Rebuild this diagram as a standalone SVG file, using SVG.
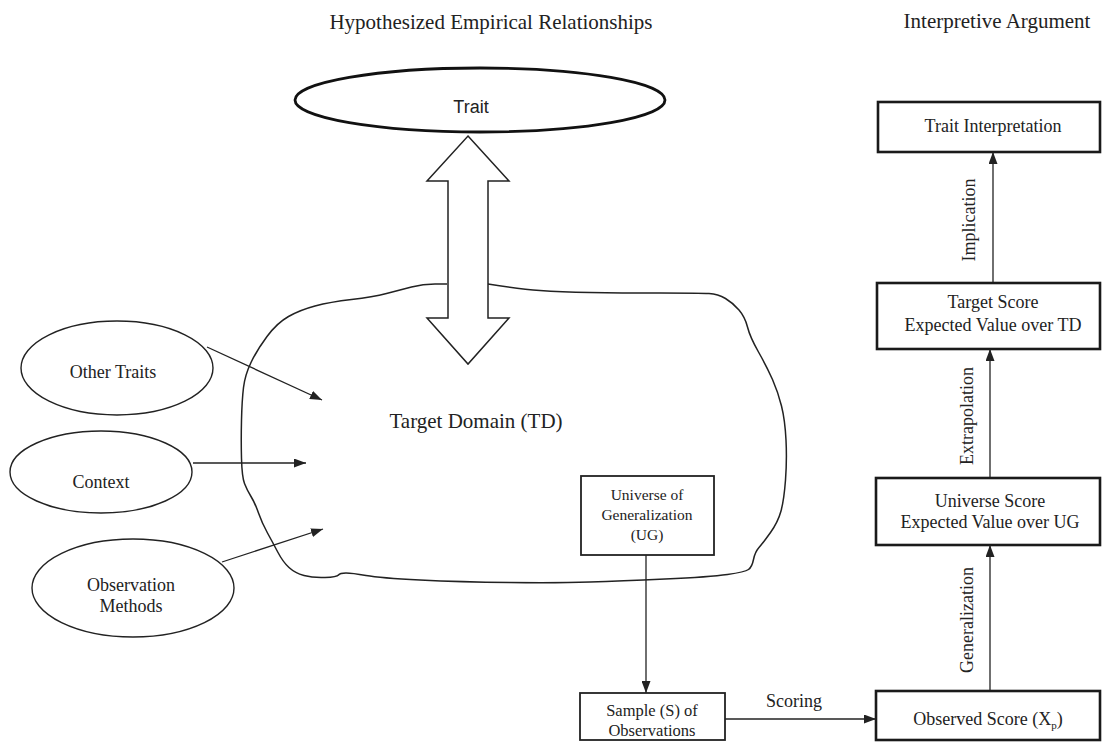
<svg xmlns="http://www.w3.org/2000/svg" width="1103" height="742" viewBox="0 0 1103 742">
<style>
.t{font-family:"Liberation Serif","Times New Roman",serif;fill:#222;text-anchor:middle}
.title{font-size:21px}
.lab{font-size:18px}
.sm{font-size:15.5px}
.sans{font-family:"Liberation Sans",Arial,sans-serif;font-size:18px;fill:#222;text-anchor:middle}
.ell{fill:#fff;stroke:#222;stroke-width:1.4}
.box{fill:#fff;stroke:#222;stroke-width:1.8}
.tbox{fill:#fff;stroke:#1a1a1a;stroke-width:2.6}
.con{stroke:#222;stroke-width:1.3;fill:none}
</style>
<defs>
<marker id="ah" markerWidth="12" markerHeight="9" refX="12" refY="4.5" orient="auto" markerUnits="userSpaceOnUse">
<path d="M0,0 L12,4.5 L0,9 z" fill="#222"/>
</marker>
</defs>
<rect width="1103" height="742" fill="#fff"/>
<text class="t title" x="491" y="29">Hypothesized Empirical Relationships</text>
<text class="t title" x="997" y="28">Interpretive Argument</text>

<g id="target-domain">
<path d="M488,284 Q520,289 540,290.5 Q560,292 590,292.5 Q620,293 660,293 Q700,293 709,293.5 Q718,294 725.5,298.5 Q733,303 739,310 Q745,317 747.5,327 Q750,337 758.5,352 Q767,367 772.5,379.5 Q778,392 781.5,406 Q785,420 786,440 Q787,460 785.5,480 Q784,500 781,511 Q778,522 770.5,532.5 Q763,543 759,547.5 Q755,552 753.5,559.5 Q752,567 748.5,569.5 Q745,572 727.5,574.5 Q710,577 665,579 Q620,581 590,582 Q560,583 510,582.5 Q460,582 420,580 Q380,578 366,575.5 Q352,573 346,573 Q340,573 338.5,575 Q337,577 325,577.5 Q313,578 304,575.5 Q295,573 289,567.5 Q283,562 278,552.5 Q273,543 267.5,533 Q262,523 258.5,513 Q255,503 251,496.5 Q247,490 244.5,483.5 Q242,477 241.5,458.5 Q241,440 241.5,420 Q242,400 243.5,387.5 Q245,375 251,362.5 Q257,350 267,336.5 Q277,323 288.5,316.5 Q300,310 315,306 Q330,302 351.5,299.5 Q373,297 386.5,293.5 Q400,290 411.5,287 Q423,284 435,284 L447,284" fill="none" stroke="#222" stroke-width="1.5"/>
<text class="t" style="font-size:21px" x="476" y="428">Target Domain (TD)</text>
</g>

<g id="trait">
<ellipse cx="480" cy="100" rx="185" ry="32" fill="#fff" stroke="#111" stroke-width="2.8"/>
<text class="sans" x="471" y="113">Trait</text>
</g>

<g id="double-arrow">
<polygon points="468,136 509,181 488,181 488,318 509,318 468,364 427,318 448,318 448,181 427,181" fill="#fff" stroke="#222" stroke-width="1.5" stroke-linejoin="miter"/>
</g>

<g id="other-traits">
<ellipse class="ell" cx="117" cy="368" rx="96" ry="47"/>
<text class="t lab" x="113" y="378">Other Traits</text>
</g>
<g id="context">
<ellipse class="ell" cx="101" cy="472" rx="91" ry="41"/>
<text class="t lab" x="101" y="488">Context</text>
</g>
<g id="observation-methods">
<ellipse class="ell" cx="133" cy="588" rx="101" ry="49"/>
<text class="t lab" x="131" y="591">Observation</text>
<text class="t lab" x="131" y="612">Methods</text>
</g>

<g id="ug">
<rect class="box" x="581" y="476" width="133" height="79"/>
<text class="t sm" x="647" y="500">Universe of</text>
<text class="t sm" x="647" y="520">Generalization</text>
<text class="t sm" x="647" y="540">(UG)</text>
</g>

<g id="sample">
<rect class="box" x="580" y="693" width="145" height="47"/>
<text class="t" style="font-size:16.5px" x="652" y="716">Sample (S) of</text>
<text class="t" style="font-size:16.5px" x="652" y="736">Observations</text>
</g>

<g id="observed-score">
<rect class="tbox" x="876" y="691" width="224" height="49"/>
<text class="t lab" x="988" y="725">Observed Score (X<tspan style="font-size:11px" dy="4">p</tspan><tspan dy="-4">)</tspan></text>
</g>

<g id="universe-score">
<rect class="tbox" x="876" y="478" width="224" height="67"/>
<text class="t lab" x="990" y="507">Universe Score</text>
<text class="t lab" x="990" y="528">Expected Value over UG</text>
</g>

<g id="target-score">
<rect class="tbox" x="877" y="283" width="223" height="66"/>
<text class="t lab" x="993" y="308">Target Score</text>
<text class="t lab" x="993" y="331">Expected Value over TD</text>
</g>

<g id="trait-interpretation">
<rect class="tbox" x="878" y="102" width="222" height="50"/>
<text class="t lab" x="993" y="132">Trait Interpretation</text>
</g>

<g id="connectors">
<line class="con" x1="207" y1="347" x2="322" y2="400" marker-end="url(#ah)"/>
<line class="con" x1="193" y1="463" x2="306" y2="463" marker-end="url(#ah)"/>
<line class="con" x1="222" y1="562" x2="323" y2="529" marker-end="url(#ah)"/>
<line class="con" x1="646" y1="555" x2="646" y2="693" marker-end="url(#ah)"/>
<line class="con" x1="725" y1="719" x2="876" y2="719" marker-end="url(#ah)"/>
<line class="con" x1="990" y1="690" x2="990" y2="545" marker-end="url(#ah)"/>
<line class="con" x1="990" y1="477" x2="990" y2="349" marker-end="url(#ah)"/>
<line class="con" x1="993" y1="282" x2="993" y2="152" marker-end="url(#ah)"/>
<text class="t lab" x="794" y="707">Scoring</text>
<text class="t lab" transform="translate(973,620) rotate(-90)">Generalization</text>
<text class="t lab" transform="translate(973,416) rotate(-90)">Extrapolation</text>
<text class="t lab" transform="translate(975,220) rotate(-90)">Implication</text>
</g>
</svg>
